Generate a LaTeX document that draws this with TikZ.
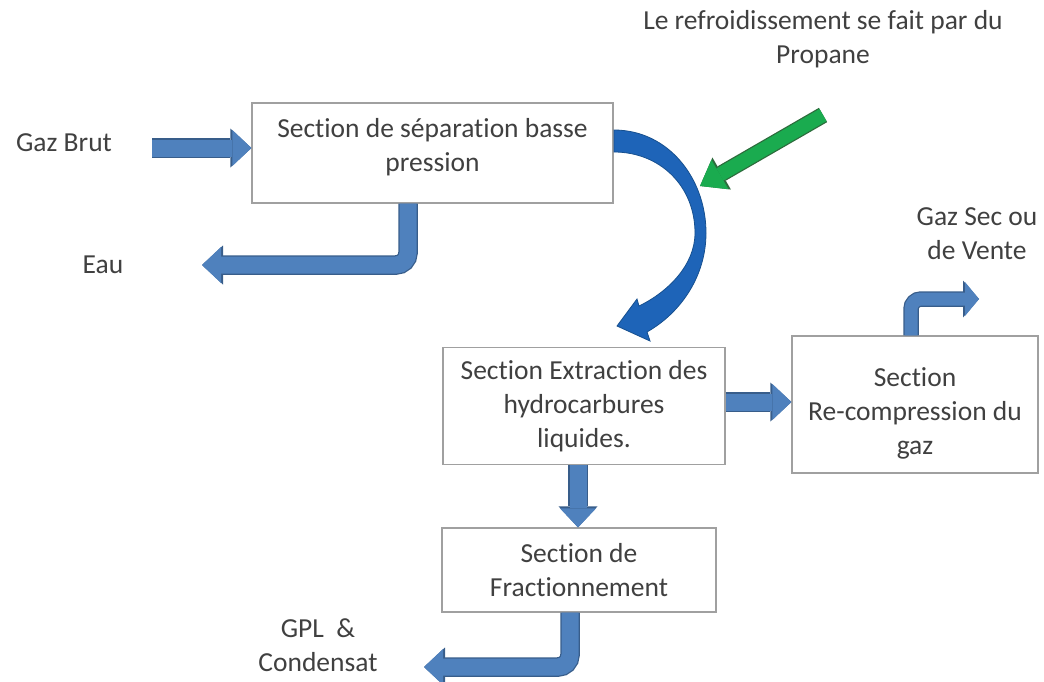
\documentclass[tikz,border=0pt]{standalone}
\usepackage{fontspec}
\setmainfont{Carlito}[Ligatures=NoCommon]
\usetikzlibrary{arrows.meta}
\definecolor{txtgray}{HTML}{404040}
\definecolor{boxline}{HTML}{A0A0A0}
\definecolor{arrowfill}{HTML}{4F81BD}
\definecolor{arrowline}{HTML}{385D8A}
\definecolor{curvfill}{HTML}{1E64B8}
\definecolor{curvline}{HTML}{17508F}
\definecolor{propfill}{HTML}{1AAB4F}
\definecolor{propline}{HTML}{2D6B3C}

\begin{document}
\begin{tikzpicture}[x=1pt,y=-1pt,
  every node/.style={text=txtgray, font=\fontsize{27.5}{34}\selectfont, align=center, inner sep=0pt},
  section/.style={draw=boxline, line width=1.2pt, fill=white},
  fat/.style={line width=17pt, draw=arrowfill, -{Triangle[width=36pt,length=19pt,line width=0pt]},
    preaction={draw=arrowline, line width=19.5pt, -{Triangle[width=39pt,length=21pt,line width=0pt]}}},
  fatsmall/.style={line width=13pt, draw=arrowfill, -{Triangle[width=34pt,length=14pt,line width=0pt]},
    preaction={draw=arrowline, line width=15.5pt, -{Triangle[width=37pt,length=16pt,line width=0pt]}}},
  propane/.style={line width=14pt, draw=propfill, -{Triangle[width=34pt,length=23pt,line width=0pt]},
    preaction={draw=propline, line width=16.5pt, -{Triangle[width=37pt,length=25pt,line width=0pt]}}}]
\useasboundingbox (0,0) rectangle (1044,681);

% sections
\node[section, minimum width=361pt, minimum height=100pt, text depth=17pt] (b1) at (432.5,153) {Section de séparation basse\\pression};
\node[section, minimum width=282pt, minimum height=117pt] (b2) at (584,406) {Section Extraction des\\hydrocarbures\\liquides.};
\node[section, minimum width=246pt, minimum height=137pt,
  label={[name=b3text, yshift=-9pt]center:{Section\\Re-compression du\\gaz}}] (b3) at (915,404.5) {};
\node[section, minimum width=274pt, minimum height=84pt] (b4) at (579,570) {Section de\\Fractionnement};

% labels
\node (gazbrut) at (64,143) {Gaz Brut};
\node (eau) at (103,265) {Eau};
\node (propane) at (823,39) {Le refroidissement se fait par du\\Propane};
\node (gazsec) at (977,234) {Gaz Sec ou\\de Vente};
\node (gpl) at (318,645) {GPL~ \&\\Condensat};

\coordinate (gbstart) at (152,148);
\coordinate (eauend) at (202,265);
\coordinate (gsend) at (979,299);
\coordinate (gplend) at (424,667);
\coordinate (ptail) at (823,115);
\coordinate (ptip) at (700,186);

% flows
\draw[fat] (gbstart) -- (gbstart -| b1.west);
\draw[fat, rounded corners=12pt] ([xshift=-24.5pt]b1.south) |- (eauend);
\draw[fat] ([yshift=4pt]b2.east) -- ([yshift=4pt]b2.east -| b3.west);
\draw[fat] ([xshift=-6pt]b2.south) -- ([xshift=-6pt]b2.south |- b4.north);
\draw[fatsmall, rounded corners=10pt] ([xshift=-4pt]b3.north) |- (gsend);
\draw[fat, rounded corners=12pt] ([xshift=-9pt]b4.south) |- (gplend);

% curved arrow to extraction
\filldraw[fill=curvfill, draw=curvline, line width=0.8pt]
  (614,130) .. controls (668,130) and (706,178) .. (706,233)
  .. controls (706,275) and (682,312) .. (647,332)
  -- (650,341) -- (617,326) -- (637,299) -- (639,306)
  .. controls (668,292) and (695,265) .. (695,233)
  .. controls (695,186) and (660,152) .. (614,152) -- cycle;

\draw[propane] (ptail) -- (ptip);
\end{tikzpicture}
\end{document}
